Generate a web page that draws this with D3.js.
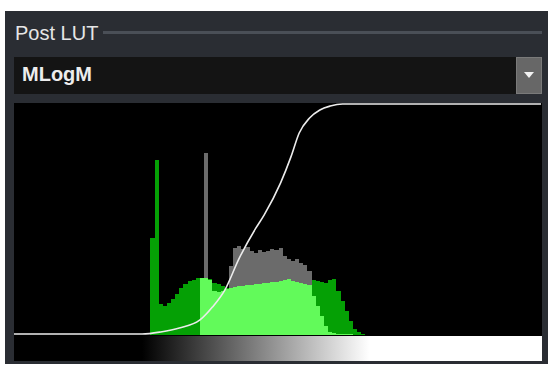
<!DOCTYPE html>
<html>
<head>
<meta charset="utf-8">
<script src="https://cdn.jsdelivr.net/npm/d3@7"></script>
<style>
  body { margin: 0; background: #ffffff; }
  svg { display: block; }
</style>
</head>
<body>
<div class="container"></div>
<script>
// panel labels
const panelTitle = "Post LUT";
const lutName = "MLogM";

// histogram bins (8-bit code values, 2 codes per bin)
const binCodes = d3.range(64, 174, 2);
const darkGreenHist = [0, 42, 75.6, 13.5, 12.6, 13.9, 15.7, 17.8, 20.4, 22.2, 23.5, 23.9, 24.8,
    24.0, 24.0, 24.3, 22.6, 22.2, 21.3, 20.4,
    19.4, 19.9, 20.3, 20.3, 20.7, 20.7, 21.2, 21.2, 21.6, 21.6, 22, 22, 22.5, 22.9, 23.3, 22.5, 22, 21.6, 21.2, 20.7,
    23.9, 23.5, 23, 22.6, 23.9, 24.3, 19, 14.8, 10.4, 6, 2.6, 1.3, 0.4, 0, 0];
const lightGreenHist = [0, 0, 0, 0, 0, 0, 0, 0, 0, 0, 0, 0, 0,
    24.8, 24.8, 23.9, 19.1, 18.7, 19.1, 20,
    20.4, 20.9, 21.3, 21.3, 21.7, 21.7, 22.2, 22.2, 22.6, 22.6, 23, 23, 23.5, 23.9, 24.3, 23.5, 23, 22.6, 22.2, 21.7,
    17, 12.6, 8.3, 3.9, 1.3, 0.9, 0.4, 0.4, 0.3, 0.3, 0, 0, 0, 0, 0];
const grayHist = [0, 0, 0, 0, 0, 0, 0, 0, 0, 0, 0, 0, 0,
    0, 79, 18, 17, 17, 18, 19,
    30, 37.8, 38.7, 37.4, 38.3, 36.5, 35.7, 37, 36, 36.5, 37.4, 37, 37.8, 34.3, 33, 32.2, 33, 31.3, 30.4, 27.8,
    15, 10, 6, 2, 0, 0, 0, 0, 0, 0, 0, 0, 0, 0, 0];

// LUT curve control points (input code -> output 0..1)
const lutIn  = [0, 62, 71, 80, 90, 96, 102, 109, 117, 121, 129, 134, 138, 143, 148, 153, 159, 255];
const lutOut = [0, 0, 0.009, 0.026, 0.061, 0.117, 0.191, 0.33, 0.46, 0.517, 0.657, 0.77, 0.874, 0.939, 0.974, 0.991, 1, 1];

// ramp under the histogram
const rampStart = 62, rampEnd = 172;

const W = 549, H = 367;
const svg = d3.select("div.container").append("svg")
    .attr("width", W).attr("height", H);

//panel background
svg.append("rect").attr("x", 5).attr("y", 11).attr("width", 543).attr("height", 353).attr("fill", "#2a2d33");

//title and rule
svg.append("text").attr("x", 15).attr("y", 40)
    .style("font-family", "'Liberation Sans', Arial, sans-serif").style("font-size", "20px")
    .attr("fill", "#e6e6e6").text(panelTitle);
svg.append("rect").attr("x", 103).attr("y", 31).attr("width", 439).attr("height", 3).attr("fill", "#4a4f57");

//dropdown
svg.append("rect").attr("x", 14).attr("y", 57).attr("width", 502).attr("height", 37).attr("fill", "#141414");
svg.append("text").attr("x", 22).attr("y", 81)
    .style("font-family", "'Liberation Sans', Arial, sans-serif").style("font-size", "20px").style("font-weight", "bold")
    .attr("fill", "#ededed").text(lutName);
svg.append("rect").attr("x", 516.5).attr("y", 57.5).attr("width", 25).attr("height", 36)
    .attr("fill", "#676767").attr("stroke", "#7a7a7a");
svg.append("path").attr("d", "M524,72 L534,72 L529,78 Z").attr("fill", "#f2f2f2");

//histogram area
const plot = { left: 14, right: 542, top: 104, bottom: 335 };
svg.append("rect").attr("x", plot.left).attr("y", 103).attr("width", plot.right - plot.left).attr("height", 258).attr("fill", "#000");

const x = d3.scaleLinear().domain([0, 255]).range([plot.left, plot.right - 1]);
const yHist = d3.scaleLinear().domain([0, 100]).range([plot.bottom, plot.top]);
const yLut = d3.scaleLinear().domain([0, 1]).range([plot.bottom - 1, plot.top]);

const area = d3.area()
    .x(d => x(d.c))
    .y0(yHist(0))
    .y1(d => yHist(d.v))
    .curve(d3.curveStepAfter);

function series(values) {
    const pts = binCodes.map((c, i) => ({ c: c, v: values[i] }));
    pts.push({ c: binCodes[binCodes.length - 1] + 2, v: 0 });
    return pts;
}

const layers = [
    { values: grayHist, color: "#6b6b6b" },
    { values: darkGreenHist, color: "#05a005" },
    { values: lightGreenHist, color: "#62fa5a" }
];
svg.append("g").selectAll("path")
    .data(layers)
    .enter()
    .append("path")
    .attr("d", d => area(series(d.values)))
    .attr("fill", d => d.color)
    .attr("shape-rendering", "crispEdges");

//gradient ramp
const defs = svg.append("defs");
const grad = defs.append("linearGradient").attr("id", "ramp")
    .attr("gradientUnits", "userSpaceOnUse")
    .attr("x1", x(rampStart)).attr("x2", x(rampEnd)).attr("y1", 0).attr("y2", 0);
grad.append("stop").attr("offset", 0).attr("stop-color", "#000");
grad.append("stop").attr("offset", 1).attr("stop-color", "#fff");
svg.append("rect").attr("x", plot.left).attr("y", 336).attr("width", plot.right - plot.left).attr("height", 25)
    .attr("fill", "url(#ramp)");

//LUT curve
const line = d3.line()
    .x(d => x(d[0]))
    .y(d => yLut(d[1]))
    .curve(d3.curveMonotoneX);
svg.append("path")
    .attr("d", line(lutIn.map((v, i) => [v, lutOut[i]])))
    .attr("fill", "none")
    .attr("stroke", "#ececec")
    .attr("stroke-width", 1.6);
</script>
</body>
</html>
